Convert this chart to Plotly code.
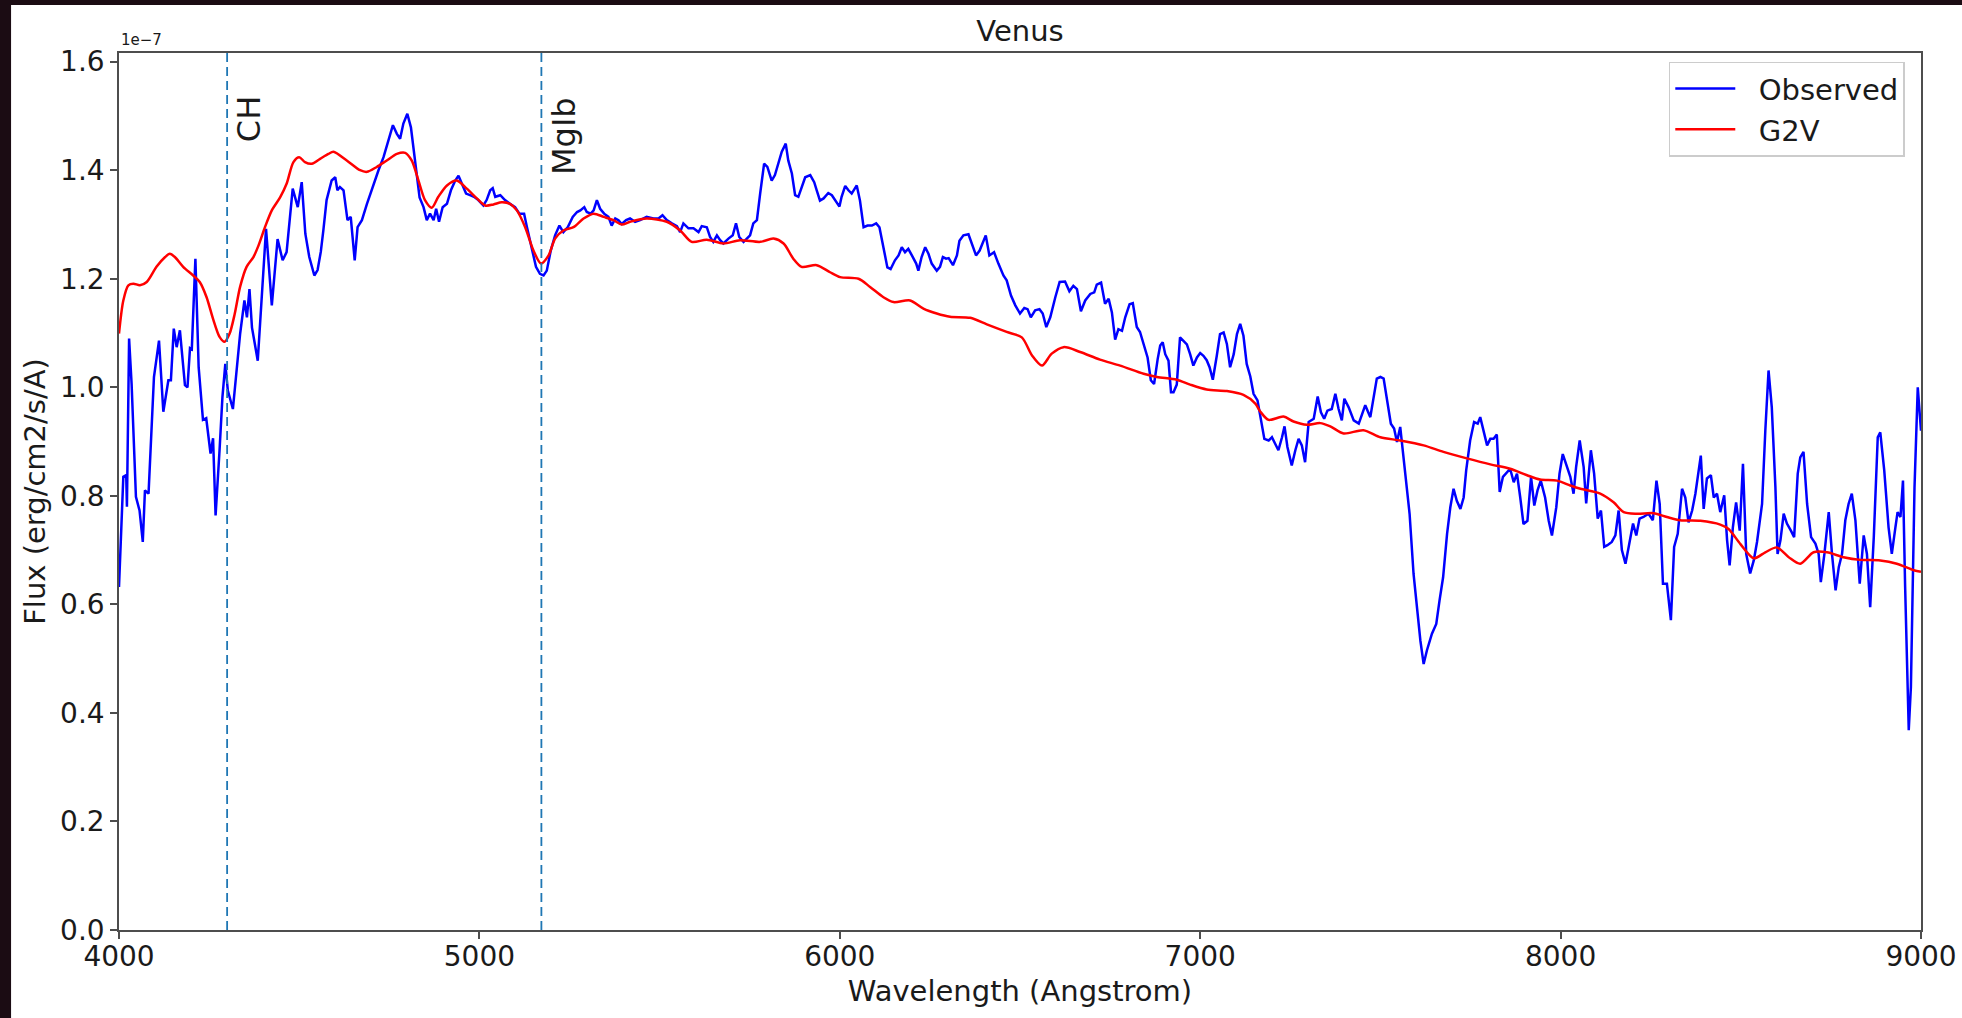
import plotly.graph_objects as go

# ---------------- data (flux in units of 1e-7 erg/cm2/s/A) ----------------
SCALE = 1e-7

obs_wavelength = [
    4000, 4012, 4020, 4022, 4028, 4035, 4047, 4057, 4066, 4072, 4082, 4097, 4111, 4123, 4137, 4144,
    4152, 4160, 4169, 4183, 4190, 4197, 4202, 4212, 4221, 4233, 4242, 4254, 4261, 4268, 4279, 4287,
    4295, 4302, 4316, 4327, 4336, 4348, 4355, 4362, 4369, 4385, 4399, 4408, 4424, 4440, 4454, 4465,
    4482, 4496, 4507, 4517, 4528, 4542, 4551, 4560, 4567, 4576, 4590, 4600, 4606, 4613, 4623, 4634,
    4643, 4654, 4662, 4674, 4688, 4706, 4720, 4734, 4748, 4760, 4771, 4780, 4789, 4800, 4810, 4822,
    4834, 4845, 4854, 4863, 4873, 4880, 4888, 4898, 4910, 4921, 4933, 4942, 4951, 4963, 4974, 4985,
    4997, 5011, 5020, 5030, 5037, 5044, 5058, 5071, 5085, 5099, 5111, 5124, 5132, 5145, 5157, 5168,
    5178, 5187, 5198, 5210, 5222, 5233, 5245, 5259, 5271, 5280, 5291, 5298, 5309, 5317, 5326, 5335,
    5346, 5358, 5367, 5377, 5386, 5395, 5407, 5418, 5432, 5446, 5464, 5483, 5497, 5508, 5520, 5534,
    5548, 5557, 5566, 5580, 5594, 5608, 5617, 5631, 5640, 5649, 5659, 5668, 5677, 5691, 5703, 5712,
    5721, 5733, 5742, 5751, 5760, 5770, 5779, 5790, 5799, 5811, 5820, 5830, 5839, 5850, 5857, 5867,
    5876, 5885, 5894, 5904, 5918, 5929, 5936, 5945, 5955, 5968, 5978, 5987, 5999, 6005, 6015, 6024,
    6033, 6047, 6056, 6066, 6077, 6089, 6101, 6110, 6121, 6132, 6141, 6153, 6163, 6172, 6181, 6190,
    6200, 6212, 6218, 6227, 6237, 6246, 6255, 6269, 6278, 6286, 6295, 6302, 6314, 6325, 6332, 6343,
    6357, 6368, 6378, 6388, 6397, 6405, 6415, 6428, 6440, 6454, 6463, 6475, 6487, 6500, 6512, 6521,
    6530, 6542, 6554, 6563, 6573, 6584, 6598, 6610, 6625, 6637, 6648, 6658, 6669, 6681, 6695, 6706,
    6713, 6725, 6736, 6746, 6755, 6764, 6773, 6783, 6792, 6804, 6813, 6824, 6833, 6845, 6854, 6863,
    6872, 6882, 6889, 6896, 6903, 6912, 6919, 6926, 6935, 6944, 6954, 6963, 6972, 6981, 6991, 7000,
    7009, 7018, 7026, 7035, 7046, 7055, 7065, 7074, 7083, 7093, 7102, 7111, 7120, 7129, 7139, 7148,
    7159, 7168, 7178, 7190, 7199, 7208, 7217, 7227, 7234, 7242, 7254, 7264, 7273, 7282, 7291, 7301,
    7315, 7326, 7335, 7344, 7353, 7365, 7375, 7384, 7393, 7400, 7412, 7426, 7440, 7458, 7472, 7490,
    7500, 7509, 7520, 7529, 7538, 7546, 7555, 7563, 7572, 7581, 7592, 7601, 7611, 7620, 7629, 7643,
    7655, 7664, 7674, 7685, 7694, 7703, 7712, 7722, 7731, 7738, 7749, 7760, 7770, 7777, 7786, 7796,
    7805, 7814, 7823, 7831, 7840, 7851, 7860, 7870, 7879, 7888, 7897, 7908, 7918, 7927, 7936, 7945,
    7957, 7967, 7976, 7988, 7997, 8006, 8017, 8027, 8036, 8043, 8053, 8064, 8071, 8078, 8084, 8093,
    8103, 8112, 8121, 8130, 8142, 8152, 8161, 8170, 8180, 8189, 8201, 8210, 8219, 8230, 8244, 8256,
    8266, 8275, 8284, 8295, 8306, 8315, 8325, 8337, 8346, 8355, 8365, 8374, 8380, 8389, 8397, 8406,
    8417, 8425, 8434, 8443, 8454, 8462, 8469, 8478, 8487, 8497, 8506, 8515, 8526, 8536, 8545, 8559,
    8568, 8577, 8586, 8596, 8602, 8610, 8619, 8628, 8639, 8648, 8658, 8665, 8674, 8684, 8695, 8707,
    8716, 8722, 8732, 8744, 8753, 8763, 8772, 8781, 8790, 8799, 8808, 8818, 8830, 8841, 8850, 8859,
    8869, 8880, 8887, 8898, 8910, 8919, 8929, 8935, 8943, 8950, 8956, 8966, 8972, 8982, 8991, 9000,
]

obs_flux = [
    0.632, 0.835, 0.838, 0.780, 1.090, 1.006, 0.798, 0.773, 0.715, 0.810, 0.804, 1.019, 1.086, 0.955, 1.013, 1.013,
    1.108, 1.074, 1.105, 1.004, 1.000, 1.072, 1.070, 1.237, 1.037, 0.940, 0.943, 0.878, 0.906, 0.764, 0.884, 0.982,
    1.043, 0.994, 0.960, 1.043, 1.098, 1.160, 1.129, 1.181, 1.110, 1.049, 1.187, 1.292, 1.151, 1.273, 1.234, 1.249,
    1.366, 1.332, 1.378, 1.283, 1.240, 1.206, 1.216, 1.250, 1.289, 1.345, 1.381, 1.387, 1.363, 1.369, 1.363, 1.308,
    1.314, 1.234, 1.295, 1.308, 1.338, 1.375, 1.400, 1.424, 1.455, 1.483, 1.467, 1.458, 1.486, 1.504, 1.479, 1.412,
    1.350, 1.332, 1.308, 1.320, 1.308, 1.329, 1.305, 1.332, 1.338, 1.363, 1.381, 1.390, 1.375, 1.357, 1.354, 1.351,
    1.345, 1.335, 1.345, 1.363, 1.367, 1.351, 1.354, 1.345, 1.338, 1.332, 1.320, 1.320, 1.295, 1.258, 1.222, 1.209,
    1.206, 1.215, 1.252, 1.280, 1.298, 1.286, 1.295, 1.314, 1.323, 1.326, 1.332, 1.323, 1.320, 1.326, 1.345, 1.329,
    1.320, 1.314, 1.298, 1.311, 1.308, 1.301, 1.308, 1.311, 1.305, 1.308, 1.314, 1.311, 1.311, 1.317, 1.308, 1.302,
    1.297, 1.286, 1.302, 1.293, 1.293, 1.286, 1.297, 1.295, 1.277, 1.268, 1.280, 1.271, 1.265, 1.274, 1.280, 1.302,
    1.277, 1.268, 1.274, 1.280, 1.302, 1.308, 1.357, 1.412, 1.406, 1.381, 1.391, 1.412, 1.434, 1.449, 1.418, 1.394,
    1.354, 1.351, 1.369, 1.387, 1.391, 1.378, 1.363, 1.344, 1.348, 1.358, 1.354, 1.344, 1.333, 1.351, 1.371, 1.363,
    1.357, 1.372, 1.344, 1.295, 1.298, 1.298, 1.302, 1.295, 1.258, 1.221, 1.218, 1.234, 1.243, 1.258, 1.249, 1.255,
    1.243, 1.228, 1.215, 1.240, 1.258, 1.246, 1.228, 1.215, 1.222, 1.240, 1.237, 1.238, 1.225, 1.243, 1.270, 1.280,
    1.282, 1.262, 1.243, 1.252, 1.268, 1.280, 1.243, 1.249, 1.228, 1.206, 1.197, 1.169, 1.151, 1.136, 1.146, 1.144,
    1.129, 1.142, 1.144, 1.136, 1.111, 1.129, 1.166, 1.194, 1.195, 1.177, 1.187, 1.181, 1.140, 1.160, 1.172, 1.175,
    1.189, 1.193, 1.154, 1.163, 1.138, 1.088, 1.107, 1.104, 1.129, 1.153, 1.155, 1.111, 1.102, 1.074, 1.055, 1.013,
    1.006, 1.052, 1.077, 1.083, 1.061, 1.049, 0.991, 0.991, 1.005, 1.092, 1.086, 1.079, 1.061, 1.040, 1.055, 1.063,
    1.058, 1.050, 1.037, 1.014, 1.058, 1.098, 1.101, 1.080, 1.037, 1.061, 1.098, 1.117, 1.095, 1.043, 1.020, 0.988,
    0.976, 0.939, 0.905, 0.902, 0.908, 0.896, 0.884, 0.908, 0.928, 0.890, 0.856, 0.884, 0.905, 0.893, 0.862, 0.936,
    0.942, 0.983, 0.954, 0.942, 0.957, 0.960, 0.988, 0.960, 0.939, 0.979, 0.963, 0.939, 0.933, 0.967, 0.945, 1.016,
    1.019, 1.016, 0.970, 0.933, 0.924, 0.899, 0.927, 0.878, 0.822, 0.767, 0.656, 0.600, 0.533, 0.490, 0.515, 0.546,
    0.564, 0.607, 0.650, 0.730, 0.779, 0.813, 0.791, 0.776, 0.797, 0.847, 0.902, 0.936, 0.933, 0.945, 0.920, 0.893,
    0.905, 0.905, 0.913, 0.807, 0.835, 0.844, 0.850, 0.825, 0.841, 0.797, 0.748, 0.754, 0.835, 0.782, 0.810, 0.828,
    0.797, 0.754, 0.727, 0.779, 0.841, 0.877, 0.853, 0.835, 0.804, 0.853, 0.902, 0.853, 0.786, 0.835, 0.884, 0.841,
    0.758, 0.773, 0.706, 0.709, 0.715, 0.727, 0.773, 0.700, 0.675, 0.706, 0.749, 0.727, 0.758, 0.761, 0.767, 0.755,
    0.828, 0.785, 0.638, 0.638, 0.571, 0.706, 0.730, 0.813, 0.797, 0.751, 0.773, 0.804, 0.832, 0.874, 0.776, 0.832,
    0.838, 0.797, 0.804, 0.770, 0.801, 0.718, 0.672, 0.742, 0.788, 0.736, 0.859, 0.693, 0.657, 0.681, 0.715, 0.785,
    0.920, 1.031, 0.963, 0.816, 0.693, 0.718, 0.767, 0.749, 0.736, 0.724, 0.841, 0.871, 0.881, 0.785, 0.724, 0.712,
    0.693, 0.641, 0.693, 0.770, 0.693, 0.626, 0.669, 0.693, 0.755, 0.785, 0.804, 0.755, 0.638, 0.727, 0.693, 0.595,
    0.724, 0.908, 0.917, 0.847, 0.742, 0.693, 0.742, 0.770, 0.761, 0.828, 0.632, 0.368, 0.448, 0.816, 1.000, 0.920,
]

g2v_wavelength = [
    4000, 4012, 4026, 4040, 4058, 4077, 4104, 4128, 4141, 4155, 4178, 4206, 4224, 4243, 4261, 4279,
    4293, 4307, 4321, 4336, 4354, 4373, 4387, 4405, 4424, 4447, 4465, 4484, 4500, 4516, 4535, 4558,
    4581, 4595, 4632, 4669, 4688, 4715, 4743, 4771, 4794, 4812, 4831, 4849, 4868, 4886, 4910, 4937,
    4965, 4993, 5016, 5039, 5062, 5085, 5104, 5127, 5150, 5171, 5192, 5210, 5233, 5261, 5289, 5317,
    5345, 5372, 5395, 5418, 5464, 5520, 5557, 5589, 5631, 5677, 5723, 5779, 5816, 5844, 5871, 5894,
    5936, 5973, 6001, 6052, 6084, 6121, 6149, 6195, 6232, 6269, 6306, 6362, 6408, 6463, 6505, 6533,
    6561, 6588, 6621, 6667, 6722, 6778, 6843, 6880, 6935, 6972, 7018, 7074, 7120, 7153, 7167, 7190,
    7231, 7259, 7296, 7333, 7361, 7398, 7453, 7500, 7555, 7620, 7675, 7740, 7805, 7860, 7907, 7943,
    7990, 8027, 8055, 8110, 8147, 8175, 8212, 8258, 8295, 8332, 8388, 8443, 8466, 8499, 8536, 8568,
    8600, 8633, 8665, 8702, 8739, 8785, 8832, 8887, 8933, 8980, 9000,
]

g2v_flux = [
    1.099, 1.160, 1.188, 1.191, 1.188, 1.194, 1.222, 1.240, 1.246, 1.240, 1.222, 1.206, 1.194, 1.166, 1.126, 1.093,
    1.084, 1.099, 1.135, 1.185, 1.222, 1.240, 1.261, 1.295, 1.326, 1.350, 1.375, 1.415, 1.424, 1.415, 1.412, 1.421,
    1.430, 1.434, 1.418, 1.400, 1.397, 1.406, 1.418, 1.430, 1.432, 1.418, 1.381, 1.345, 1.331, 1.351, 1.372, 1.381,
    1.366, 1.348, 1.335, 1.337, 1.341, 1.338, 1.326, 1.295, 1.252, 1.228, 1.243, 1.274, 1.289, 1.295, 1.311, 1.320,
    1.314, 1.308, 1.300, 1.305, 1.311, 1.305, 1.289, 1.268, 1.272, 1.265, 1.271, 1.268, 1.274, 1.265, 1.237, 1.222,
    1.225, 1.212, 1.203, 1.200, 1.185, 1.166, 1.157, 1.160, 1.145, 1.136, 1.130, 1.128, 1.116, 1.102, 1.092, 1.059,
    1.040, 1.062, 1.074, 1.065, 1.051, 1.040, 1.025, 1.019, 1.014, 1.005, 0.996, 0.993, 0.986, 0.970, 0.955, 0.940,
    0.946, 0.937, 0.931, 0.934, 0.928, 0.915, 0.921, 0.908, 0.902, 0.893, 0.881, 0.869, 0.858, 0.850, 0.838, 0.830,
    0.828, 0.819, 0.813, 0.804, 0.788, 0.770, 0.767, 0.768, 0.761, 0.755, 0.754, 0.747, 0.739, 0.711, 0.685, 0.696,
    0.705, 0.687, 0.675, 0.696, 0.696, 0.687, 0.682, 0.681, 0.675, 0.663, 0.660,
]

line_wavelengths = [4300, 5172]
line_labels = ["CH", "MgIb"]
line_label_flux = [1.45, 1.39]

x_ticks = [4000, 5000, 6000, 7000, 8000, 9000]
y_ticks = [0.0, 0.2, 0.4, 0.6, 0.8, 1.0, 1.2, 1.4, 1.6]
y_max = 1.616

# ---------------- figure ----------------
FONT = "DejaVu Sans"
TXT = "#1a1a1a"
AX = "#4d4d4d"
LBL = 29

fig = go.Figure()

fig.add_trace(go.Scatter(
    x=obs_wavelength, y=[v * SCALE for v in obs_flux], mode="lines", name="\u00a0\u00a0Observed",
    line=dict(color="#0000ff", width=2.5),
))
fig.add_trace(go.Scatter(
    x=g2v_wavelength, y=[v * SCALE for v in g2v_flux], mode="lines", name="\u00a0\u00a0G2V",
    line=dict(color="#ff0000", width=2.5, shape="spline", smoothing=0.8),
))

for wl, lab, yl in zip(line_wavelengths, line_labels, line_label_flux):
    fig.add_shape(type="line", xref="x", yref="paper", x0=wl, x1=wl, y0=0, y1=1,
                  line=dict(color="#1f77b4", width=1.8, dash="9px,5px"), layer="above")
    fig.add_annotation(x=wl, y=yl * SCALE, xref="x", yref="y", text=lab, textangle=-90,
                       showarrow=False, xanchor="left", yanchor="bottom", xshift=2,
                       borderpad=0, font=dict(family=FONT, size=32, color=TXT))

# outer dark frame of the screenshot: white figure area over dark page
fig.add_shape(type="rect", xref="paper", yref="paper", x0=-0.0599, x1=1.03, y0=-0.11, y1=1.0547,
              fillcolor="white", line=dict(width=0), layer="below")

# matplotlib offset text
fig.add_annotation(x=0, y=1, xref="paper", yref="paper", text="1e\u22127", showarrow=False,
                   xanchor="left", yanchor="bottom", yshift=2, font=dict(family=FONT, size=15, color=TXT))

fig.update_layout(
    width=1962, height=1018,
    margin=dict(l=119, r=41, t=53, b=88, autoexpand=False),
    paper_bgcolor="#1b0c13",
    plot_bgcolor="white",
    font=dict(family=FONT, size=28, color=TXT),
    title=dict(text="Venus", x=0.5, xref="paper", xanchor="center", y=1, yref="paper",
               yanchor="bottom", pad=dict(b=12), font=dict(family=FONT, size=LBL, color=TXT)),
    showlegend=True,
    legend=dict(x=0.991, y=0.99, xanchor="right", yanchor="top", bgcolor="white",
                bordercolor="#cccccc", borderwidth=1.5, font=dict(family=FONT, size=LBL, color=TXT),
                itemwidth=60, tracegroupgap=0),
    xaxis=dict(range=[4000, 9000], tickvals=x_ticks, ticktext=[str(t) for t in x_ticks],
               showgrid=False, zeroline=False, showline=True, mirror=True, linecolor=AX, linewidth=1.5,
               ticks="outside", ticklen=7, tickwidth=1.5, tickcolor=AX, automargin=False,
               ticklabelstandoff=-6,
               title=dict(text="Wavelength (Angstrom)", standoff=8, font=dict(family=FONT, size=LBL, color=TXT)),
               tickfont=dict(family=FONT, size=28, color=TXT)),
    yaxis=dict(range=[0, y_max * SCALE], tickvals=[t * SCALE for t in y_ticks],
               ticktext=[f"{t:.1f}" for t in y_ticks],
               showgrid=False, zeroline=False, showline=True, mirror=True, linecolor=AX, linewidth=1.5,
               ticks="outside", ticklen=7, tickwidth=1.5, tickcolor=AX, automargin=False,
               title=dict(text="Flux (erg/cm2/s/A)", standoff=6, font=dict(family=FONT, size=LBL, color=TXT)),
               tickfont=dict(family=FONT, size=28, color=TXT)),
)

fig.write_html("out.html")
